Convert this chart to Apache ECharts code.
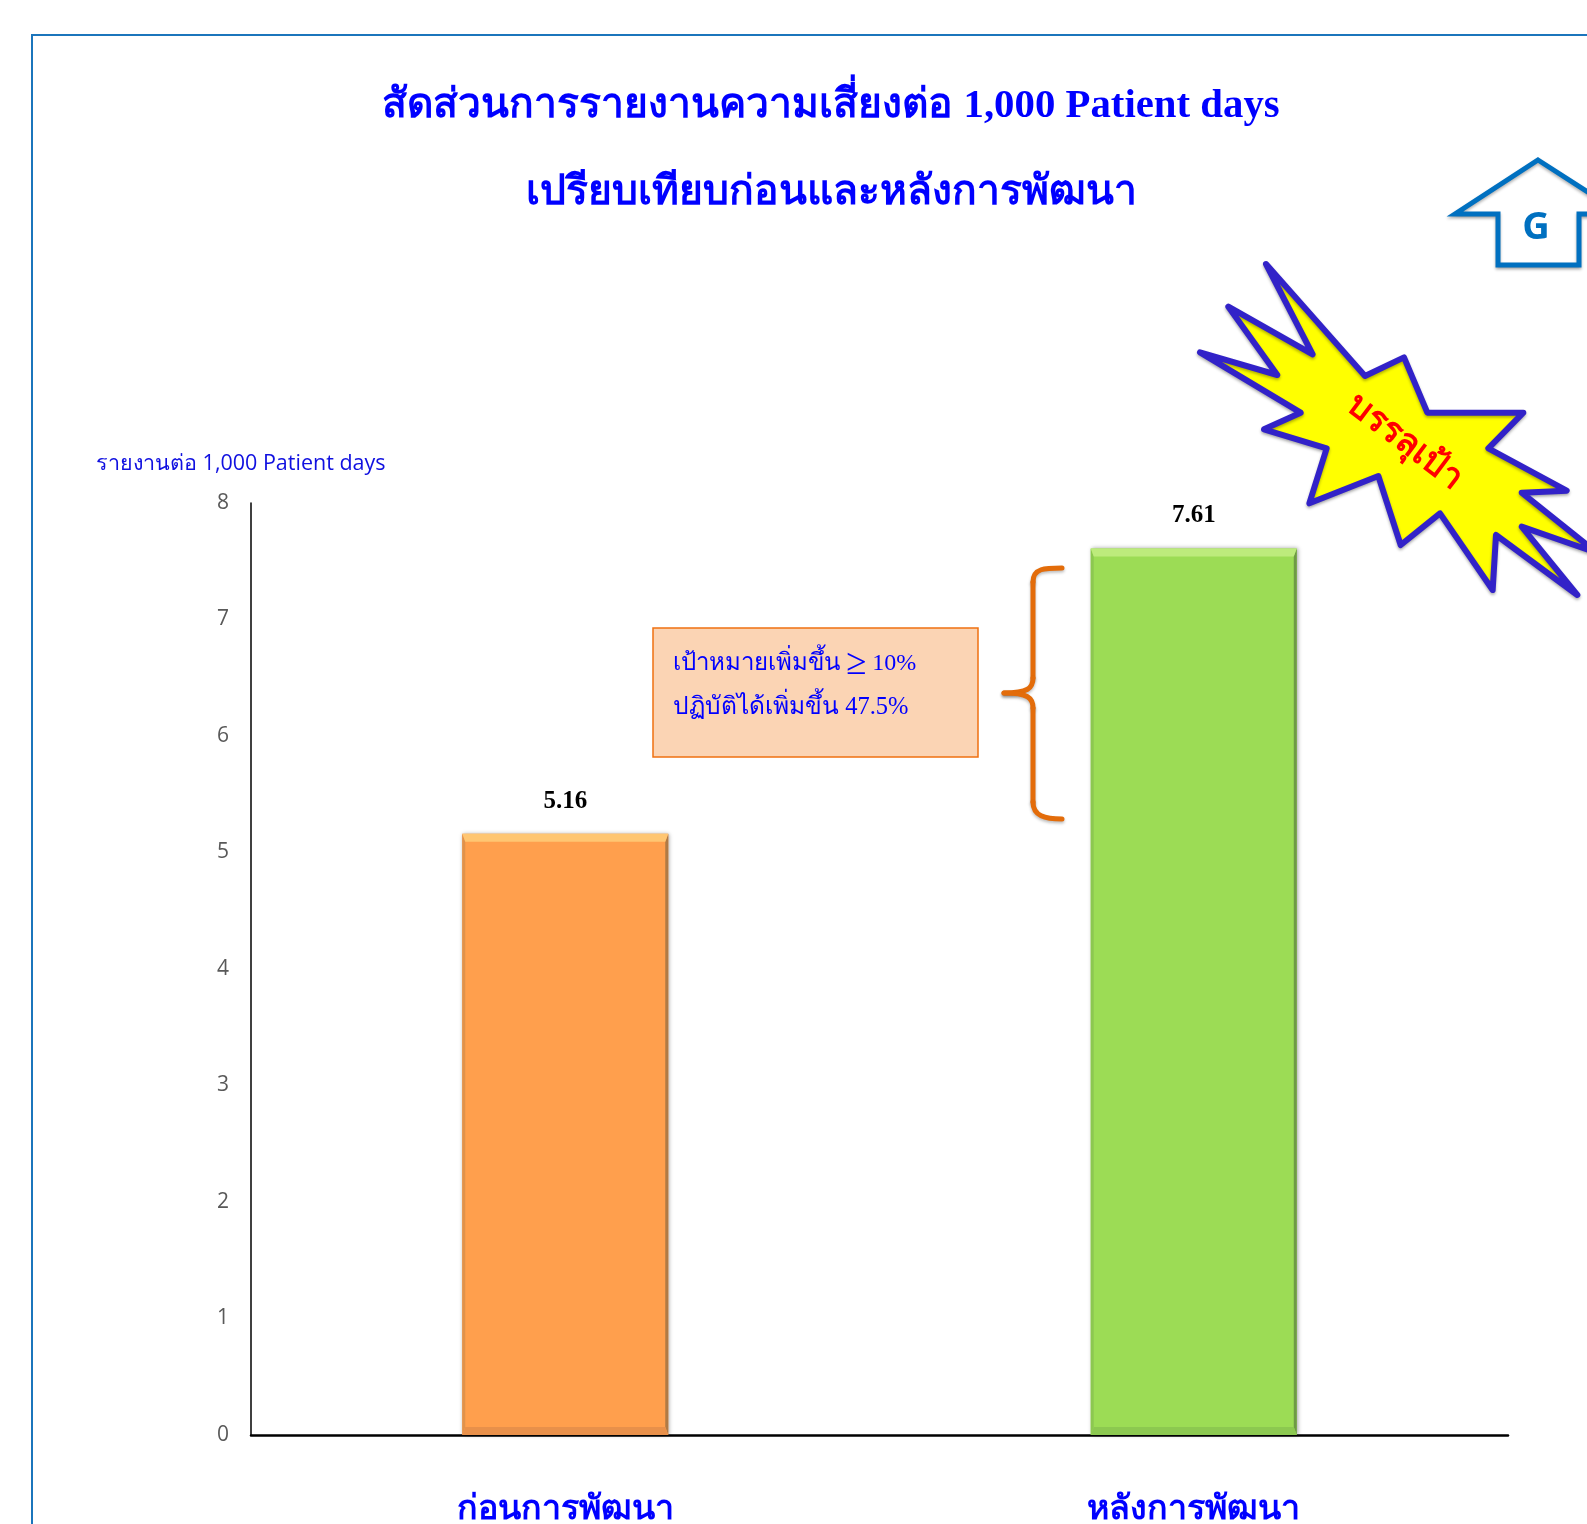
<!DOCTYPE html>
<html><head><meta charset="utf-8">
<style>html,body{margin:0;padding:0;background:#fff}#c{width:1587px;height:1524px}</style>
<script src="https://cdn.jsdelivr.net/npm/echarts@6/dist/echarts.min.js"></script>
</head><body><div id="c"></div>
<script>
const categories = ['ก่อนการพัฒนา', 'หลังการพัฒนา'];
const values = [5.16, 7.61];
const titleLines = ['สัดส่วนการรายงานความเสี่ยงต่อ 1,000 Patient days', 'เปรียบเทียบก่อนและหลังการพัฒนา'];
const axisName = 'รายงานต่อ 1,000 Patient days';
const noteLines = ['เป้าหมายเพิ่มขึ้น {g|≥} 10%', 'ปฏิบัติได้เพิ่มขึ้น 47.5%'];
const badgeText = 'บรรลุเป้า';
const faces = [
  {body:'#FF9F4D', top:'#FFC672', bottom:'#E8904A', left:'#E0924C', right:'#B07A45'},
  {body:'#9CDC55', top:'#BDEB7C', bottom:'#8CC850', left:'#8CC850', right:'#6E9A45'}
];
const BLUE = '#0000FF';
const SERIF = '"Liberation Serif","Noto Sans",serif';
const SANS = '"Open Sans","Noto Sans",sans-serif';
const starZoom = [[258,372],[555,708],[672,652],[742,818],[1030,818],[925,925],[1160,1052],[1025,1058],[1250,1238],[1025,1160],[1192,1365],[948,1185],[938,1350],[780,1120],[662,1215],[595,1008],[388,1090],[440,925],[252,868],[362,818],[60,637],[292,705],[145,500],[398,643]];
const star = starZoom.map(p => [1180 + p[0]/3, 140 + p[1]/3]);
const braceStyle = {fill:'none', stroke:'#E36C0A', lineWidth:5, lineCap:'round', shadowColor:'rgba(0,0,0,0.25)', shadowBlur:3, shadowOffsetY:2};
const curve = (x1,y1,cpx1,cpy1,cpx2,cpy2,x2,y2) => ({type:'bezierCurve', z:10, shape:{x1,y1,cpx1,cpy1,cpx2,cpy2,x2,y2}, style:braceStyle});
const seg = (x1,y1,x2,y2) => ({type:'line', z:10, shape:{x1,y1,x2,y2}, style:braceStyle});
const chart = echarts.init(document.getElementById('c'), null, {renderer:'canvas'});
chart.setOption({
  animation:false,
  backgroundColor:'#fff',
  title:[
    {text:titleLines[0], left:826, top:81, textAlign:'center', textStyle:{color:BLUE, fontFamily:SERIF, fontWeight:'bold', fontSize:40.8}},
    {text:titleLines[1], left:826, top:168, textAlign:'center', textStyle:{color:BLUE, fontFamily:SERIF, fontWeight:'bold', fontSize:40.8}},
    {text:axisName, left:91, top:448, textStyle:{color:'#1010E0', fontFamily:SANS, fontWeight:'normal', fontSize:21.5}}
  ],
  grid:{left:251, top:503, width:1257, height:932, containLabel:false, outerBoundsMode:'none'},
  xAxis:{type:'category', data:categories,
    axisLine:{lineStyle:{color:'#000', width:2.5}}, axisTick:{show:false},
    axisLabel:{color:BLUE, fontFamily:SERIF, fontWeight:'bold', fontSize:34, margin:58}},
  yAxis:{type:'value', min:0, max:8, interval:1,
    axisLine:{show:true, lineStyle:{color:'#000', width:1.5}}, axisTick:{show:false}, splitLine:{show:false},
    axisLabel:{color:'#595959', fontFamily:SANS, fontSize:21, margin:22, padding:[5,0,0,0]}},
  series:[
    {type:'bar', data:values.map((v,i)=>({value:v, itemStyle:{color:faces[i].body}})), barWidth:206, z:2,
     itemStyle:{shadowColor:'rgba(0,0,0,0.35)', shadowBlur:4, shadowOffsetX:1},
     label:{show:true, position:'top', distance:20, formatter:p=>p.value.toFixed(2), color:'#000', fontFamily:SERIF, fontWeight:'bold', fontSize:25}},
    {type:'custom', data:values.map((v,i)=>[i,v]), z:3, silent:true, clip:false,
     renderItem:(params, api)=>{
       const i = api.value(0), top = api.coord([i, api.value(1)]), base = api.coord([i, 0]);
       const hw = 103, f = faces[i], l = top[0]-hw, r = top[0]+hw, t = top[1], b = base[1];
       const bev = 8, s = 3;
       const poly = (pts, fill) => ({type:'polygon', shape:{points:pts}, style:{fill}});
       return {type:'group', children:[
         poly([[l,t],[l+s,t+bev],[l+s,b-bev],[l,b]], f.left),
         poly([[r,t],[r-s,t+bev],[r-s,b-bev],[r,b]], f.right),
         poly([[l,t],[r,t],[r-s,t+bev],[l+s,t+bev]], f.top),
         poly([[l,b],[r,b],[r-s,b-bev],[l+s,b-bev]], f.bottom)
       ]};
     }}
  ],
  graphic:[
    {type:'rect', z:0, shape:{x:32, y:35, width:1700, height:1700}, style:{fill:'none', stroke:'#1B75BC', lineWidth:2}},
    {type:'polygon', z:10, shape:{points:star}, style:{fill:'#FFFF00', stroke:'#3222C8', lineWidth:6, lineJoin:'round', shadowColor:'rgba(0,0,0,0.3)', shadowBlur:3, shadowOffsetY:2}},
    {type:'text', z:11, x:1405, y:442, rotation:-37*Math.PI/180, style:{text:badgeText, fill:'#FF0000', fontFamily:SANS, fontWeight:'bold', fontSize:35, align:'center', verticalAlign:'middle'}},
    {type:'polygon', z:10, shape:{points:[[1538,160],[1622,214],[1579,214],[1579,265],[1498,265],[1498,214],[1455,214]]}, style:{fill:'#fff', stroke:'#0070C0', lineWidth:5, shadowColor:'rgba(0,0,0,0.3)', shadowBlur:3, shadowOffsetY:2}},
    {type:'text', z:11, x:1536, y:228, style:{text:'G', fill:'#0070C0', fontFamily:SANS, fontWeight:'bold', fontSize:38, align:'center', verticalAlign:'middle'}},
    {type:'rect', z:10, shape:{x:653, y:628, width:325, height:129}, style:{fill:'#FBD4B4', stroke:'#F07010', lineWidth:1.5}},
    {type:'text', z:11, x:673, y:664, style:{text:noteLines[0], fill:BLUE, fontFamily:SERIF, fontSize:24, verticalAlign:'middle', rich:{g:{fontFamily:SERIF, fontSize:37, fill:BLUE}}}},
    {type:'text', z:11, x:673, y:708, style:{text:noteLines[1], fill:BLUE, fontFamily:SERIF, fontSize:24.5, verticalAlign:'middle'}},
    curve(1062,568,1045,568,1033,568,1033,582),
    seg(1033,582,1033,678),
    curve(1033,678,1033,688,1028,693,1004,693),
    curve(1004,693,1028,693,1033,698,1033,708),
    seg(1033,708,1033,802),
    curve(1033,802,1033,816,1045,819,1062,819)
  ]
});
</script></body></html>
